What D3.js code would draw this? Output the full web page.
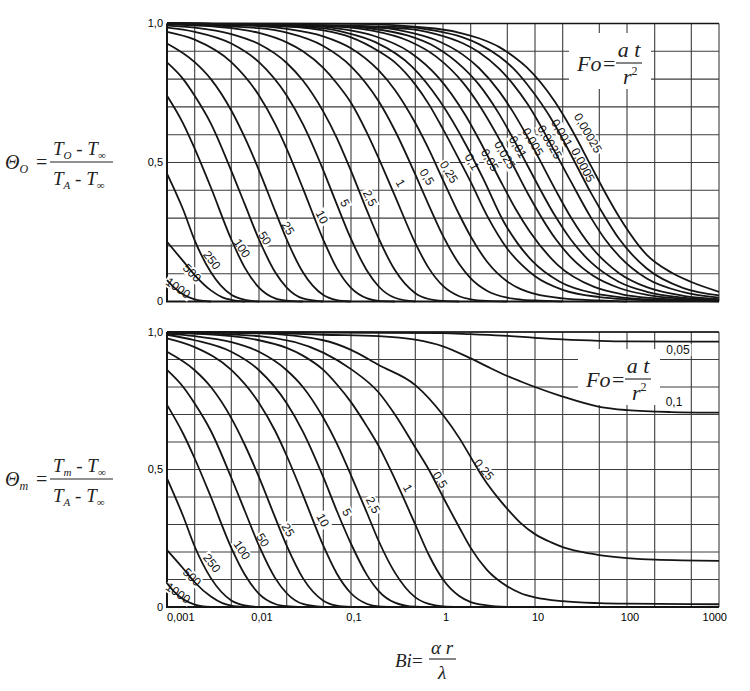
<!DOCTYPE html>
<html>
<head>
<meta charset="utf-8">
<script src="https://cdn.jsdelivr.net/npm/d3@7"></script>
<style>
  body { margin: 0; background: #fff; }
  svg { display: block; }
</style>
</head>
<body>
<svg width="750" height="691"></svg>
<script>
// Bi axis: ticks, labels, grid
const biTicks = [0.001, 0.01, 0.1, 1, 10, 100, 1000];
const biTickLabels = ["0,001", "0,01", "0,1", "1", "10", "100", "1000"];
const biGrid = [0.001, 0.002, 0.005, 0.01, 0.02, 0.05, 0.1, 0.2, 0.5, 1, 2, 5, 10, 20, 50, 100, 200, 500, 1000];
const thetaGrid = [0, 0.1, 0.2, 0.3, 0.4, 0.5, 0.6, 0.7, 0.8, 0.9, 1];
const thetaTicks = [0, 0.5, 1];
const thetaTickLabels = ["0", "0,5", "1,0"];

// upper chart: surface temperature, one curve per Fo  [Bi, Θ]
const foSurface = ["1000", "500", "250", "100", "50", "25", "10", "5", "2,5", "1", "0,5", "0,25",
                   "0,1", "0,05", "0,025", "0,01", "0,005", "0,0025", "0,001", "0,0005", "0,00025"];
const thetaSurface = [
  [[0.001,0.077],[0.0012,0.05],[0.0015,0.025],[0.002,0.008],[0.003,0]],
  [[0.001,0.215],[0.0015,0.145],[0.002,0.095],[0.003,0.04],[0.004,0.015],[0.005,0.006],[0.007,0]],
  [[0.001,0.46],[0.0015,0.33],[0.002,0.22],[0.003,0.105],[0.005,0.024],[0.007,0.006],[0.01,0]],
  [[0.001,0.74],[0.0015,0.64],[0.002,0.55],[0.003,0.41],[0.005,0.223],[0.007,0.122],[0.01,0.05],[0.015,0.011],[0.02,0.003],[0.03,0]],
  [[0.001,0.86],[0.0015,0.8],[0.002,0.74],[0.003,0.64],[0.005,0.47],[0.007,0.35],[0.01,0.223],[0.015,0.105],[0.02,0.05],[0.03,0.011],[0.05,0]],
  [[0.001,0.928],[0.002,0.861],[0.003,0.8],[0.005,0.687],[0.007,0.59],[0.01,0.472],[0.015,0.325],[0.02,0.223],[0.03,0.105],[0.05,0.023],[0.07,0.005],[0.1,0]],
  [[0.001,0.97],[0.002,0.942],[0.005,0.861],[0.01,0.741],[0.015,0.638],[0.02,0.549],[0.03,0.407],[0.05,0.222],[0.07,0.12],[0.1,0.049],[0.15,0.011],[0.2,0.002],[0.3,0]],
  [[0.001,0.985],[0.002,0.97],[0.005,0.928],[0.01,0.861],[0.02,0.741],[0.03,0.638],[0.05,0.472],[0.07,0.35],[0.1,0.225],[0.15,0.11],[0.2,0.054],[0.3,0.0135],[0.5,0]],
  [[0.001,0.9925],[0.002,0.985],[0.005,0.962],[0.01,0.926],[0.02,0.858],[0.03,0.795],[0.05,0.683],[0.07,0.589],[0.1,0.47],[0.15,0.325],[0.2,0.227],[0.3,0.113],[0.5,0.03],[0.7,0.009],[1,0.002],[1.5,0]],
  [[0.001,0.997],[0.005,0.983],[0.01,0.966],[0.02,0.932],[0.03,0.9],[0.05,0.84],[0.07,0.785],[0.1,0.715],[0.15,0.605],[0.2,0.515],[0.3,0.38],[0.5,0.21],[0.7,0.12],[1,0.056],[1.5,0.019],[2,0.008],[3,0.002],[5,0]],
  [[0.001,0.998],[0.01,0.983],[0.02,0.967],[0.05,0.919],[0.1,0.846],[0.2,0.72],[0.3,0.615],[0.5,0.457],[0.7,0.347],[1,0.236],[1.5,0.135],[2,0.0835],[3,0.039],[5,0.0138],[7,0.007],[10,0.0037],[20,0]],
  [[0.001,0.999],[0.01,0.991],[0.02,0.981],[0.05,0.954],[0.1,0.911],[0.2,0.831],[0.3,0.761],[0.5,0.642],[0.7,0.548],[1,0.437],[1.5,0.313],[2,0.234],[3,0.144],[5,0.072],[7,0.0445],[10,0.0273],[20,0.0111],[50,0.0038],[100,0]],
  [[0.001,0.9995],[0.01,0.995],[0.05,0.975],[0.1,0.95],[0.2,0.9],[0.3,0.86],[0.5,0.78],[0.7,0.71],[1,0.62],[1.5,0.51],[2,0.43],[3,0.31],[5,0.19],[7,0.135],[10,0.091],[20,0.042],[50,0.016],[100,0.0078],[200,0.0039],[500,0.0016],[1000,0.0008]],
  [[0.001,1],[0.046,0.983],[0.092,0.9655],[0.184,0.933],[0.46,0.845],[0.92,0.722],[1.84,0.554],[2.76,0.439],[4.6,0.285],[6.44,0.21],[9.2,0.148],[18.4,0.072],[46,0.028],[92,0.014],[184,0.007],[460,0.0028],[1000,0.0013]],
  [[0.001,1],[0.044,0.989],[0.088,0.978],[0.176,0.956],[0.44,0.896],[0.88,0.808],[1.76,0.669],[2.64,0.564],[4.4,0.422],[6.16,0.333],[8.8,0.251],[17.6,0.132],[44,0.0524],[88,0.026],[176,0.0129],[440,0.0052],[1000,0.0023]],
  [[0.001,1],[0.085,0.987],[0.17,0.974],[0.425,0.937],[0.85,0.88],[1.7,0.782],[2.55,0.7],[4.25,0.574],[5.95,0.482],[8.5,0.384],[17,0.222],[25.5,0.153],[42.5,0.0933],[85,0.0467],[170,0.0233],[425,0.0093],[1000,0.0039]],
  [[0.001,1],[0.082,0.991],[0.164,0.982],[0.41,0.957],[0.82,0.9165],[1.64,0.842],[2.46,0.78],[4.1,0.673],[5.74,0.588],[8.2,0.492],[16.4,0.31],[24.6,0.222],[41,0.1395],[82,0.0703],[164,0.035],[410,0.014],[1000,0.0058]],
  [[0.001,1],[0.164,0.988],[0.41,0.97],[0.82,0.9415],[1.64,0.888],[2.46,0.84],[4.1,0.755],[5.74,0.683],[8.2,0.595],[16.4,0.406],[24.6,0.302],[41,0.196],[57.4,0.144],[82,0.102],[164,0.0514],[410,0.0206],[1000,0.0085]],
  [[0.001,1],[0.41,0.981],[0.82,0.963],[1.64,0.929],[2.46,0.897],[4.1,0.837],[5.74,0.783],[8.2,0.713],[16.4,0.539],[24.6,0.431],[41,0.299],[57.4,0.225],[82,0.1636],[164,0.0828],[410,0.0337],[1000,0.014]],
  [[0.001,1],[0.41,0.987],[0.82,0.974],[1.64,0.95],[2.46,0.926],[4.1,0.8815],[5.74,0.84],[8.2,0.7815],[16.4,0.636],[24.6,0.528],[41,0.388],[57.4,0.305],[82,0.2254],[164,0.1187],[410,0.0483],[1000,0.022]],
  [[0.001,1],[0.1,0.999],[0.82,0.982],[1.64,0.964],[2.46,0.947],[4.1,0.915],[5.74,0.883],[8.2,0.841],[16.4,0.719],[24.6,0.623],[41,0.485],[57.4,0.394],[82,0.305],[164,0.168],[300,0.105],[500,0.07],[1000,0.035]]
];
// label anchors [Bi, Θ, angle]
const labelSurface = [
  [0.00132,0.049,35],[0.00187,0.103,45],[0.00308,0.149,52],[0.00653,0.192,56],[0.0116,0.228,58],
  [0.0207,0.264,60],[0.0484,0.304,62],[0.0861,0.354,62],[0.161,0.372,62],[0.345,0.426,60],
  [0.67,0.448,58],[1.16,0.466,58],[2.07,0.502,60],[3.24,0.509,60],[4.72,0.527,60],
  [6.53,0.556,60],[9.51,0.574,60],[14.5,0.574,60],[19.6,0.606,60],[33.3,0.491,62],[37.7,0.606,60]
];

// lower chart: mean temperature
const foMean = ["1000", "500", "250", "100", "50", "25", "10", "5", "2,5", "1", "0,5", "0,25", "0,1", "0,05"];
const thetaMean = [
  [[0.001,0.087],[0.0012,0.055],[0.0015,0.028],[0.002,0.009],[0.003,0]],
  [[0.001,0.207],[0.0015,0.14],[0.002,0.09],[0.003,0.038],[0.004,0.014],[0.005,0.005],[0.007,0]],
  [[0.001,0.468],[0.0015,0.33],[0.002,0.22],[0.003,0.105],[0.005,0.024],[0.007,0.006],[0.01,0]],
  [[0.001,0.735],[0.0015,0.63],[0.002,0.54],[0.003,0.4],[0.005,0.215],[0.007,0.118],[0.01,0.048],[0.015,0.011],[0.02,0.003],[0.03,0]],
  [[0.001,0.862],[0.0015,0.8],[0.002,0.74],[0.003,0.64],[0.005,0.47],[0.007,0.35],[0.01,0.223],[0.015,0.105],[0.02,0.05],[0.03,0.011],[0.05,0]],
  [[0.001,0.928],[0.002,0.861],[0.003,0.8],[0.005,0.687],[0.007,0.59],[0.01,0.472],[0.015,0.325],[0.02,0.223],[0.03,0.105],[0.05,0.023],[0.07,0.005],[0.1,0]],
  [[0.001,0.977],[0.002,0.945],[0.005,0.862],[0.01,0.742],[0.015,0.64],[0.02,0.55],[0.03,0.408],[0.05,0.223],[0.07,0.122],[0.1,0.05],[0.15,0.011],[0.2,0.002],[0.3,0]],
  [[0.001,0.99],[0.002,0.97],[0.005,0.928],[0.01,0.861],[0.02,0.741],[0.03,0.638],[0.05,0.472],[0.07,0.35],[0.1,0.23],[0.15,0.115],[0.2,0.058],[0.3,0.016],[0.5,0.001],[0.7,0]],
  [[0.001,0.993],[0.002,0.985],[0.005,0.963],[0.01,0.928],[0.02,0.861],[0.03,0.8],[0.05,0.688],[0.07,0.595],[0.1,0.479],[0.15,0.34],[0.2,0.24],[0.3,0.125],[0.5,0.035],[0.7,0.011],[1,0.002],[1.5,0]],
  [[0.001,0.997],[0.005,0.985],[0.01,0.97],[0.02,0.942],[0.03,0.914],[0.05,0.862],[0.07,0.81],[0.1,0.745],[0.15,0.655],[0.2,0.585],[0.3,0.465],[0.5,0.3],[0.7,0.19],[1,0.1],[1.5,0.04],[2,0.018],[3,0.006],[5,0]],
  [[0.001,0.999],[0.01,0.985],[0.05,0.925],[0.1,0.865],[0.2,0.78],[0.3,0.7],[0.5,0.58],[0.7,0.5],[1,0.4],[1.5,0.29],[2,0.215],[3,0.135],[5,0.075],[7,0.05],[10,0.035],[20,0.021],[50,0.014],[100,0.012],[1000,0.01]],
  [[0.001,1],[0.01,0.995],[0.05,0.97],[0.1,0.935],[0.2,0.88],[0.5,0.807],[1,0.698],[1.5,0.615],[2,0.545],[2.5,0.49],[3,0.45],[4,0.395],[5,0.357],[7,0.305],[10,0.265],[15,0.235],[20,0.218],[30,0.202],[50,0.189],[100,0.178],[200,0.172],[1000,0.168]],
  [[0.001,1],[0.01,0.998],[0.05,0.99],[0.2,0.985],[0.5,0.972],[1,0.948],[2,0.904],[3,0.875],[5,0.84],[7,0.82],[10,0.8],[20,0.765],[50,0.728],[100,0.716],[300,0.709],[1000,0.707]],
  [[0.001,1],[1,0.996],[2,0.992],[5,0.986],[10,0.979],[20,0.973],[50,0.968],[100,0.966],[1000,0.965]]
];
const labelMean = [
  [0.00132,0.051,35],[0.00187,0.109,45],[0.00308,0.16,52],[0.00653,0.207,56],[0.011,0.244,58],
  [0.0207,0.28,60],[0.0495,0.316,62],[0.0906,0.345,62],[0.174,0.371,62],[0.415,0.433,60],
  [0.93,0.462,58],[2.79,0.5,50],[324,0.745,0],[358,0.935,0]
];

const svg = d3.select("svg");

const attr_area = {
  left: 167,
  right: 719,
  top1: 23.5,
  bottom1: 301.5,
  top2: 332,
  bottom2: 607
};

const scX = d3.scaleLog().domain([0.001, 1000]).range([attr_area.left, attr_area.right]);
const scYTop = d3.scaleLinear().domain([0, 1]).range([attr_area.bottom1, attr_area.top1]);
const scYBot = d3.scaleLinear().domain([0, 1]).range([attr_area.bottom2, attr_area.top2]);

const lineColor = "#151515";
const gridColor = "#3c3c3c";
const sansFont = "Liberation Sans, Arial, sans-serif";
const serifFont = "Liberation Serif, Times New Roman, serif";

function drawGrid(g, scY) {
  g.selectAll("line.v")
    .data(biGrid)
    .enter()
    .append("line")
    .attr("class", "v")
    .attr("x1", d => scX(d)).attr("x2", d => scX(d))
    .attr("y1", scY(0)).attr("y2", scY(1))
    .attr("stroke", gridColor)
    .attr("stroke-width", 1.1);

  g.selectAll("line.h")
    .data(thetaGrid)
    .enter()
    .append("line")
    .attr("class", "h")
    .attr("x1", scX(0.001)).attr("x2", scX(1000))
    .attr("y1", d => scY(d)).attr("y2", d => scY(d))
    .attr("stroke", gridColor)
    .attr("stroke-width", 1.1);

  // frame: left and bottom heavier
  g.append("line")
    .attr("x1", scX(0.001)).attr("x2", scX(0.001))
    .attr("y1", scY(0)).attr("y2", scY(1))
    .attr("stroke", lineColor).attr("stroke-width", 2);
  g.append("line")
    .attr("x1", scX(0.001) - 1).attr("x2", scX(1000))
    .attr("y1", scY(0)).attr("y2", scY(0))
    .attr("stroke", lineColor).attr("stroke-width", 2.2);
  g.append("line")
    .attr("x1", scX(0.001)).attr("x2", scX(1000))
    .attr("y1", scY(1)).attr("y2", scY(1))
    .attr("stroke", lineColor).attr("stroke-width", 1.5);

  // y tick labels
  g.selectAll("text.ytick")
    .data(thetaTicks)
    .enter()
    .append("text")
    .attr("class", "ytick")
    .attr("x", scX(0.001) - 4)
    .attr("y", d => scY(d))
    .attr("dy", "0.35em")
    .attr("text-anchor", "end")
    .attr("font-family", sansFont)
    .attr("font-size", 11)
    .text((d, i) => thetaTickLabels[i]);
}

function drawCurves(g, curves, scY) {
  const line = d3.line()
    .x(d => scX(d[0]))
    .y(d => scY(d[1]))
    .curve(d3.curveMonotoneX);

  g.selectAll("path.fo")
    .data(curves)
    .enter()
    .append("path")
    .attr("class", "fo")
    .attr("d", line)
    .attr("fill", "none")
    .attr("stroke", lineColor)
    .attr("stroke-width", 1.8);
}

function drawLabels(bgLayer, textLayer, names, places, scY) {
  names.forEach((name, i) => {
    const [bi, th, ang] = places[i];
    const tr = `translate(${scX(bi)},${scY(th)}) rotate(${ang})`;
    const t = textLayer.append("text")
      .attr("transform", tr)
      .attr("text-anchor", "middle")
      .attr("dy", "0.35em")
      .attr("font-family", sansFont)
      .attr("font-size", 12)
      .attr("fill", "#111")
      .text(name);
    const b = t.node().getBBox();
    bgLayer.append("rect")
      .attr("transform", tr)
      .attr("x", b.x - 1.5).attr("y", b.y + 1)
      .attr("width", b.width + 3).attr("height", b.height - 2)
      .attr("fill", "#fff");
  });
}

// Fo = at / r²  (white box, drawn over the grid)
function drawFoFormula(bgLayer, x, y) {
  bgLayer.append("rect")
    .attr("x", x - 8).attr("y", y - 32)
    .attr("width", 82).attr("height", 56)
    .attr("fill", "#fff");
  const f = bgLayer.append("g")
    .attr("font-family", serifFont)
    .attr("font-style", "italic")
    .attr("fill", "#222");
  f.append("text").attr("x", x).attr("y", y + 6).attr("font-size", 22).text("Fo");
  f.append("text").attr("x", x + 26).attr("y", y + 6).attr("font-size", 22).attr("font-style", "normal").text("=");
  f.append("text").attr("x", x + 52).attr("y", y - 8).attr("text-anchor", "middle")
    .attr("font-size", 22).text("a t");
  f.append("line").attr("x1", x + 39).attr("x2", x + 65).attr("y1", y - 2).attr("y2", y - 2)
    .attr("stroke", "#222").attr("stroke-width", 1.1);
  const den = f.append("text").attr("x", x + 46).attr("y", y + 19).attr("font-size", 22);
  den.append("tspan").text("r");
  den.append("tspan").attr("dy", -9).attr("font-size", 12).attr("font-style", "normal").text("2");
}

// Θ = (T − T∞)/(T_A − T∞) on the left
function drawThetaFormula(x, y, sub) {
  const f = svg.append("g")
    .attr("font-family", serifFont)
    .attr("font-style", "italic")
    .attr("fill", "#222");
  const lhs = f.append("text").attr("x", x).attr("y", y + 6).attr("font-size", 20);
  lhs.append("tspan").text("\u0398");
  lhs.append("tspan").attr("dy", 4).attr("font-size", 12).text(sub);
  f.append("text").attr("x", x + 31).attr("y", y + 6).attr("font-size", 20)
    .attr("font-style", "normal").text("=");

  const num = f.append("text").attr("x", x + 48).attr("y", y - 8).attr("font-size", 19);
  num.append("tspan").text("T");
  num.append("tspan").attr("dy", 4).attr("font-size", 11).text(sub);
  num.append("tspan").attr("dy", -4).attr("font-style", "normal").text(" - ");
  num.append("tspan").text("T");
  num.append("tspan").attr("dy", 4).attr("font-size", 11).attr("font-style", "normal").text("\u221E");

  f.append("line").attr("x1", x + 45).attr("x2", x + 108).attr("y1", y - 1).attr("y2", y - 1)
    .attr("stroke", "#222").attr("stroke-width", 1.1);

  const den = f.append("text").attr("x", x + 48).attr("y", y + 22).attr("font-size", 19);
  den.append("tspan").text("T");
  den.append("tspan").attr("dy", 4).attr("font-size", 11).text("A");
  den.append("tspan").attr("dy", -4).attr("font-style", "normal").text(" - ");
  den.append("tspan").text("T");
  den.append("tspan").attr("dy", 4).attr("font-size", 11).attr("font-style", "normal").text("\u221E");
}

function drawBiFormula(x, y) {
  const f = svg.append("g")
    .attr("font-family", serifFont)
    .attr("font-style", "italic")
    .attr("fill", "#222");
  f.append("text").attr("x", x).attr("y", y + 6).attr("font-size", 19).text("Bi");
  f.append("text").attr("x", x + 17).attr("y", y + 6).attr("font-size", 19)
    .attr("font-style", "normal").text("=");
  f.append("text").attr("x", x + 47).attr("y", y - 7).attr("text-anchor", "middle")
    .attr("font-size", 19).text("\u03B1 r");
  f.append("line").attr("x1", x + 34).attr("x2", x + 61).attr("y1", y - 2).attr("y2", y - 2)
    .attr("stroke", "#222").attr("stroke-width", 1.1);
  f.append("text").attr("x", x + 47).attr("y", y + 18).attr("text-anchor", "middle")
    .attr("font-size", 19).text("\u03BB");
}

// upper chart
const gTop = svg.append("g");
drawGrid(gTop, scYTop);
const bgTop = svg.append("g");
drawFoFormula(bgTop, 577, 65);
const curvesTop = svg.append("g");
const textTop = svg.append("g");
drawLabels(bgTop, textTop, foSurface, labelSurface, scYTop);
drawCurves(curvesTop, thetaSurface, scYTop);

// lower chart
const gBot = svg.append("g");
drawGrid(gBot, scYBot);
const bgBot = svg.append("g");
drawFoFormula(bgBot, 586, 381);
const curvesBot = svg.append("g");
const textBot = svg.append("g");
drawLabels(bgBot, textBot, foMean, labelMean, scYBot);
drawCurves(curvesBot, thetaMean, scYBot);

// Bi tick labels under the lower chart
svg.append("g").selectAll("text")
  .data(biTicks)
  .enter()
  .append("text")
  .attr("x", (d, i) => i === 0 ? scX(d) : (i === biTicks.length - 1 ? scX(d) + 8 : scX(d) + 3))
  .attr("y", attr_area.bottom2 + 14)
  .attr("text-anchor", (d, i) => i === 0 ? "start" : (i === biTicks.length - 1 ? "end" : "middle"))
  .attr("font-family", sansFont)
  .attr("font-size", 11)
  .text((d, i) => biTickLabels[i]);

drawThetaFormula(5, 163, "O");
drawThetaFormula(5, 480, "m");
drawBiFormula(395, 661);
</script>
</body>
</html>
